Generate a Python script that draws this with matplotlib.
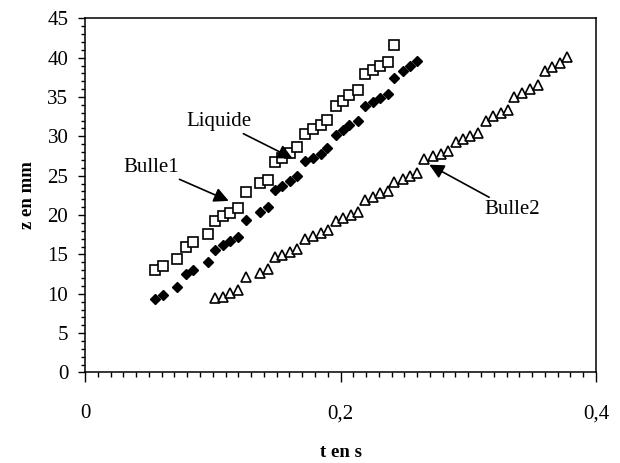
import matplotlib.pyplot as plt
from matplotlib.ticker import MultipleLocator, FuncFormatter

# Liquide (open squares) and Bulle1 (filled diamonds)
t_liquide = [0.0547, 0.0612, 0.0721, 0.0787, 0.0846, 0.0959, 0.1021, 0.1080,
             0.1138, 0.1198, 0.1263, 0.1367, 0.1432, 0.1488, 0.1545, 0.1607,
             0.1656, 0.1719, 0.1784, 0.1849, 0.1893, 0.1961, 0.2018, 0.2070,
             0.2135, 0.2195, 0.2252, 0.2310, 0.2375, 0.2422]
z_liquide = [13.0, 13.5, 14.4, 16.0, 16.6, 17.6, 19.3, 19.9,
             20.2, 20.9, 22.9, 24.1, 24.5, 26.7, 27.3, 27.9,
             28.7, 30.3, 30.9, 31.4, 32.1, 33.9, 34.5, 35.3,
             35.9, 37.9, 38.4, 38.9, 39.5, 41.6]

t_bulle1 = [0.0547, 0.0612, 0.0721, 0.0787, 0.0846, 0.0959, 0.1021, 0.1080,
            0.1138, 0.1198, 0.1263, 0.1367, 0.1432, 0.1488, 0.1545, 0.1607,
            0.1656, 0.1719, 0.1784, 0.1849, 0.1893, 0.1961, 0.2018, 0.2070,
            0.2135, 0.2195, 0.2252, 0.2310, 0.2375, 0.2422, 0.2487, 0.2545,
            0.2602]
z_bulle1 = [9.34, 9.9, 10.9, 12.5, 13.0, 14.0, 15.6, 16.2,
            16.75, 17.25, 19.4, 20.4, 21.0, 23.2, 23.7, 24.3,
            25.0, 26.9, 27.3, 27.8, 28.5, 30.2, 30.8, 31.4,
            31.9, 33.9, 34.4, 34.9, 35.4, 37.4, 38.3, 39.0,
            39.6]

# Bulle2 (open triangles)
t_bulle2 = [0.1021, 0.1080, 0.1138, 0.1198, 0.1258, 0.1367, 0.1432, 0.1484,
            0.1545, 0.1607, 0.1659, 0.1723, 0.1784, 0.1849, 0.1901, 0.1961,
            0.2018, 0.2082, 0.2135, 0.2195, 0.2252, 0.2310, 0.2375, 0.2422,
            0.2487, 0.2545, 0.2598, 0.2656, 0.2721, 0.2787, 0.2838, 0.2904,
            0.2961, 0.3013, 0.3078, 0.3137, 0.3195, 0.3254, 0.3311, 0.3359,
            0.3420, 0.3482, 0.3549, 0.3599, 0.3659, 0.3719, 0.3776]
z_bulle2 = [9.43, 9.63, 10.06, 10.48, 12.1, 12.68, 13.11, 14.71,
            14.93, 15.35, 15.65, 17.0, 17.4, 17.69, 18.05, 19.27,
            19.63, 20.01, 20.43, 21.92, 22.34, 22.77, 23.1, 24.17,
            24.6, 25.0, 25.35, 27.13, 27.5, 27.76, 28.18, 29.33,
            29.63, 30.05, 30.4, 32.0, 32.6, 33.0, 33.4, 35.0,
            35.5, 36.0, 36.5, 38.35, 38.86, 39.36, 40.13]

plt.rcParams["font.family"] = "Liberation Serif"

fig = plt.figure(figsize=(6.2, 4.63), dpi=100)
ax = fig.add_axes([0.1371, 0.1955, 0.8242, 0.765])

ax.plot(t_liquide, z_liquide, linestyle="none", marker="s", markersize=7,
        markerfacecolor="white", markeredgecolor="black", markeredgewidth=1.2)
ax.plot(t_bulle1, z_bulle1, linestyle="none", marker="D", markersize=4.8,
        color="black")
ax.plot(t_bulle2, z_bulle2, linestyle="none", marker="^", markersize=7,
        markerfacecolor="white", markeredgecolor="black", markeredgewidth=1.2)

arrow = dict(arrowstyle="-|>", color="black", lw=1.2, mutation_scale=22,
             shrinkA=0, shrinkB=0)
ax.annotate("Liquide", xy=(0.1625, 27.2), xytext=(0.1048, 31.9),
            fontsize=15, ha="center", va="center", arrowprops=arrow)
ax.annotate("Bulle1", xy=(0.1125, 21.8), xytext=(0.052, 26.1),
            fontsize=15, ha="center", va="center", arrowprops=arrow)
ax.annotate("Bulle2", xy=(0.2695, 26.4), xytext=(0.334, 20.7),
            fontsize=15, ha="center", va="center", arrowprops=arrow)

ax.set_xlim(0, 0.4)
ax.set_ylim(0, 45)
ax.xaxis.set_major_locator(MultipleLocator(0.2))
ax.xaxis.set_minor_locator(MultipleLocator(0.01))
ax.yaxis.set_major_locator(MultipleLocator(5))
ax.yaxis.set_minor_locator(MultipleLocator(1))
ax.xaxis.set_major_formatter(FuncFormatter(
    lambda v, p: "0" if abs(v) < 1e-9 else "{:g}".format(round(v, 2)).replace(".", ",")))

ax.tick_params(axis="x", which="major", direction="out", length=7, width=1,
               labelsize=15, pad=16)
ax.tick_params(axis="x", which="minor", direction="out", length=3.5, width=1)
ax.tick_params(axis="y", which="major", direction="out", length=5, width=1,
               labelsize=15, pad=7)
ax.tick_params(axis="y", which="minor", direction="out", length=3, width=1)
for s in ax.spines.values():
    s.set_linewidth(1.1)

ax.set_xlabel("t en s", fontsize=13.5, fontweight="bold", labelpad=15)
ax.set_ylabel("z en mm", fontsize=13.5, fontweight="bold", labelpad=8)

fig.savefig("out.png", dpi=100)
